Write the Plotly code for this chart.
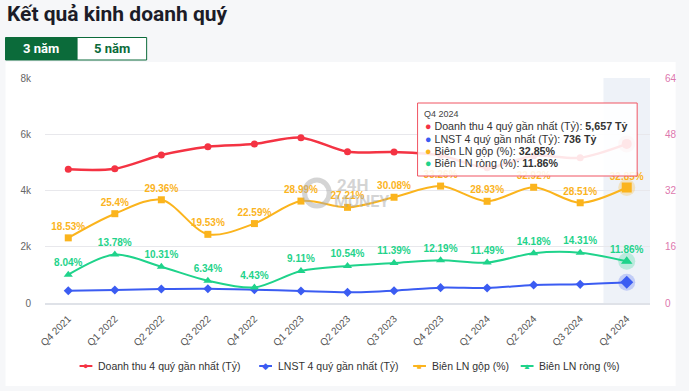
import plotly.graph_objects as go

# ---------------- data ----------------
quarters = ["Q4 2021", "Q1 2022", "Q2 2022", "Q3 2022", "Q4 2022", "Q1 2023", "Q2 2023",
            "Q3 2023", "Q4 2023", "Q1 2024", "Q2 2024", "Q3 2024", "Q4 2024"]
revenue = [4755, 4775, 5262, 5558, 5653, 5879, 5380, 5369, 5250, 4810, 5237, 5166, 5657]
lnst = [437, 462, 498, 508, 474, 427, 379, 437, 545, 533, 640, 664, 736]
gross_margin = [18.53, 25.4, 29.36, 19.53, 22.59, 28.99, 27.21, 30.08, 33.26, 28.93, 32.92, 28.51, 32.85]
net_margin = [8.04, 13.78, 10.31, 6.34, 4.43, 9.11, 10.54, 11.39, 12.19, 11.49, 14.18, 14.31, 11.86]
left_ticks = [0, 2000, 4000, 6000, 8000]
left_ticktext = ["0", "2k", "4k", "6k", "8k"]
right_ticks = [0, 16, 32, 48, 64]
names = ["Doanh thu 4 quý gần nhất (Tỷ)", "LNST 4 quý gần nhất (Tỷ)", "Biên LN gộp (%)", "Biên LN ròng (%)"]

RED, BLUE, ORANGE, GREEN = "#f43343", "#3b5cf2", "#fbb41d", "#1fd38b"
DKGREEN = "#0b6b3a"
FONT = "Liberation Sans, Arial, sans-serif"

W, H = 689, 391
L, R, T, B = 45, 658, 78, 303


def px(x):
    return (x - L) / (R - L)


def py(y):
    return (B - y) / (B - T)


fig = go.Figure()

fig.add_trace(go.Scatter(x=quarters, y=revenue, mode="lines+markers", name=names[0],
                         line=dict(color=RED, width=2.5, shape="spline", smoothing=0.9),
                         marker=dict(symbol="circle", size=7, color=RED), yaxis="y"))
fig.add_trace(go.Scatter(x=quarters, y=lnst, mode="lines+markers", name=names[1],
                         line=dict(color=BLUE, width=2, shape="spline", smoothing=0.9),
                         marker=dict(symbol="diamond", size=7, color=BLUE), yaxis="y"))
fig.add_trace(go.Scatter(x=quarters, y=gross_margin, mode="lines+markers+text", name=names[2],
                         line=dict(color=ORANGE, width=2, shape="spline", smoothing=0.9),
                         marker=dict(symbol="square", size=7, color=ORANGE),
                         text=[f"{v:g}%" for v in gross_margin], textposition="top center",
                         textfont=dict(family=FONT, size=10, color=ORANGE, weight="bold"),
                         yaxis="y2"))
fig.add_trace(go.Scatter(x=quarters, y=net_margin, mode="lines+markers+text", name=names[3],
                         line=dict(color=GREEN, width=2, shape="spline", smoothing=0.9),
                         marker=dict(symbol="triangle-up", size=8, color=GREEN),
                         text=[f"{v:g}%" for v in net_margin], textposition="top center",
                         textfont=dict(family=FONT, size=10, color=GREEN, weight="bold"),
                         yaxis="y2"))

# hover highlight halos on last category
for vals, col, sym, ax in [(revenue, RED, "circle", "y"), (lnst, BLUE, "diamond", "y"),
                           (gross_margin, ORANGE, "square", "y2"), (net_margin, GREEN, "triangle-up", "y2")]:
    fig.add_trace(go.Scatter(x=[quarters[-1]], y=[vals[-1]], mode="markers", showlegend=False,
                             marker=dict(symbol="circle", size=17, color=col, opacity=0.25), yaxis=ax))
    fig.add_trace(go.Scatter(x=[quarters[-1]], y=[vals[-1]], mode="markers", showlegend=False,
                             marker=dict(symbol=sym, size=10, color=col), yaxis=ax))

shapes = []
annotations = []


def note(text, x, y, size, color, family=FONT, xanchor="left"):
    annotations.append(dict(text=text, xref="paper", yref="paper", x=px(x), y=py(y),
                            xanchor=xanchor, yanchor="middle", showarrow=False,
                            font=dict(family=family, size=size, color=color)))


# card background
shapes.append(dict(type="rect", xref="paper", yref="paper", x0=px(5), x1=px(684), y0=py(62), y1=py(386),
                   fillcolor="white", line=dict(width=0), layer="below"))
# highlight band
shapes.append(dict(type="rect", xref="x", yref="paper", x0=len(quarters) - 1.5, x1=len(quarters) - 0.5,
                   y0=0, y1=1, fillcolor="#eef2f8", line=dict(width=0), layer="below"))

# title
note("<b>Kết quả kinh doanh quý</b>", 4, 14, 21, "#1c1c28", family="Roboto, sans-serif")
# buttons
shapes.append(dict(type="rect", xref="paper", yref="paper", x0=px(5), x1=px(77.5), y0=py(37.5), y1=py(60),
                   fillcolor=DKGREEN, line=dict(color=DKGREEN, width=1)))
shapes.append(dict(type="rect", xref="paper", yref="paper", x0=px(77.5), x1=px(148), y0=py(37.5), y1=py(60),
                   fillcolor="white", line=dict(color=DKGREEN, width=1)))
note("<b>3 năm</b>", 41, 48.5, 13, "white", family="Roboto, sans-serif", xanchor="center")
note("<b>5 năm</b>", 113, 48.5, 13, DKGREEN, family="Roboto, sans-serif", xanchor="center")

# watermark
WM = "rgba(170,170,170,0.5)"
shapes.append(dict(type="circle", xref="paper", yref="paper", x0=px(308), x1=px(333), y0=py(206), y1=py(180),
                   line=dict(color=WM, width=5), layer="above"))
note("<b>24H</b>", 339, 185, 17, WM, family="Roboto, sans-serif")
note("<b>MONEY</b>", 336, 201, 16, WM, family="Roboto, sans-serif")

# tooltip
shapes.append(dict(type="rect", xref="paper", yref="paper", x0=px(422.5), x1=px(645), y0=py(103), y1=py(176),
                   fillcolor="rgba(255,255,255,0.88)", line=dict(color="#f05563", width=1), layer="above"))
note(quarters[-1], 427, 114, 9, "#444")
tip_rows = [(RED, names[0], f"{revenue[-1]:,} Tỷ"), (BLUE, names[1], f"{lnst[-1]:,} Tỷ"),
            (ORANGE, names[2], f"{gross_margin[-1]:g}%"), (GREEN, names[3], f"{net_margin[-1]:g}%")]
for i, (col, nm, val) in enumerate(tip_rows):
    note(f"<span style='color:{col}'>●</span> {nm}: <b>{val}</b>", 428, 126.5 + i * 12, 10.7, "#333")

# manual legend
leg_items = [(80, RED, "●", 9), (262, BLUE, "◆", 9), (418, ORANGE, "■", 8), (527, GREEN, "▲", 8)]
LEGY = 366
for (x0, col, glyph, gs), nm in zip(leg_items, names):
    shapes.append(dict(type="line", xref="paper", yref="paper", x0=px(x0), x1=px(x0 + 13),
                       y0=py(LEGY), y1=py(LEGY), line=dict(color=col, width=2)))
    note(glyph, x0 + 6.5, LEGY, gs, col, xanchor="center")
    note(nm, x0 + 17, LEGY, 10.5, "#333")

fig.update_layout(
    width=W, height=H,
    margin=dict(l=L, r=W - R, t=T, b=H - B, pad=0),
    paper_bgcolor="#f6f7f9", plot_bgcolor="rgba(0,0,0,0)",
    showlegend=False,
    font=dict(family=FONT, size=10, color="#555"),
    xaxis=dict(type="category", range=[-0.5, len(quarters) - 0.5], tickangle=-45,
               showgrid=False, showline=True, linecolor="#dfe2e8", linewidth=2,
               tickfont=dict(family=FONT, size=10, color="#555"), ticks="outside", ticklen=4,
               tickcolor="rgba(0,0,0,0)", zeroline=False),
    yaxis=dict(range=[0, 8000], tickvals=left_ticks, ticktext=left_ticktext,
               showgrid=True, gridcolor="#e8e8ec", gridwidth=1, zeroline=False,
               tickfont=dict(family=FONT, size=10, color="#666"), ticks="outside", ticklen=11,
               tickcolor="rgba(0,0,0,0)"),
    yaxis2=dict(range=[0, 64], tickvals=right_ticks, overlaying="y", side="right",
                showgrid=False, zeroline=False,
                tickfont=dict(family=FONT, size=10, color="#dd78ae"), ticks="outside", ticklen=12,
                tickcolor="rgba(0,0,0,0)"),
    shapes=shapes, annotations=annotations,
)

fig.write_html("out.html", config={"displayModeBar": False},
               post_script="document.body.style.margin='0';document.body.style.padding='0';")
